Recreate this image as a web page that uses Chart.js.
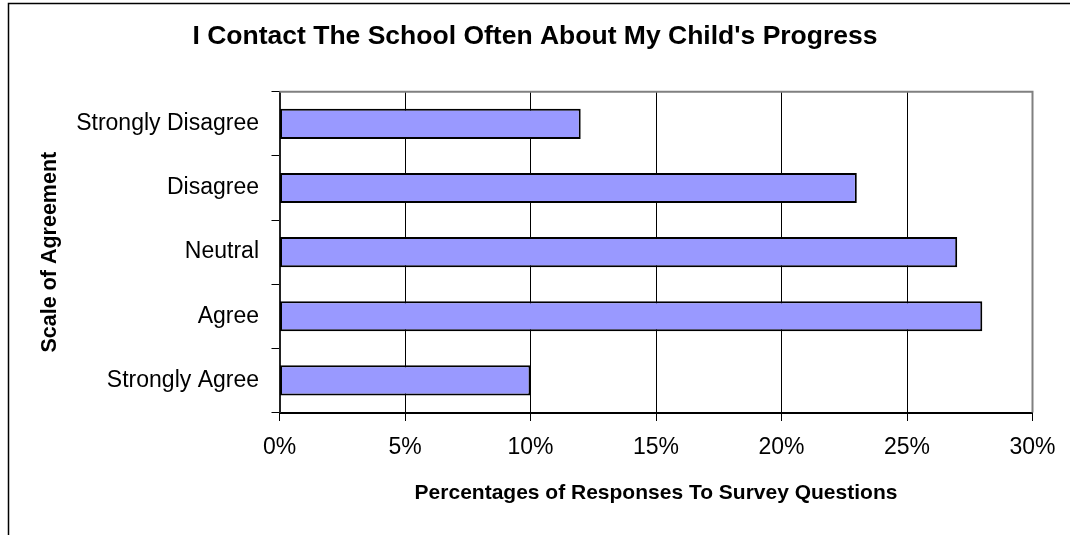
<!DOCTYPE html>
<html>
<head>
<meta charset="utf-8">
<script src="https://cdn.jsdelivr.net/npm/chart.js@4/dist/chart.umd.min.js"></script>
<style>
  html, body { margin: 0; padding: 0; background: #fff; }
  #chart { display: block; }
</style>
</head>
<body>
<canvas id="chart" width="1070" height="535"></canvas>
<script>
// survey answers, top to bottom as in the picture
const categories = ['Strongly Disagree', 'Disagree', 'Neutral', 'Agree', 'Strongly Agree'];
const responses = [12, 23, 27, 28, 10];
const percentTicks = [0, 5, 10, 15, 20, 25, 30];

const FONT = '"Liberation Sans", Arial, sans-serif';

// gray frame on top/right of the plot plus the outer chart border
const frame = {
  id: 'frame',
  afterDatasetsDraw(chart) {
    const {ctx, chartArea: a} = chart;
    ctx.save();
    ctx.strokeStyle = '#808080';
    ctx.lineWidth = 2;
    ctx.beginPath();
    ctx.moveTo(a.left, a.top);
    ctx.lineTo(a.right, a.top);
    ctx.lineTo(a.right, a.bottom);
    ctx.stroke();
    ctx.strokeStyle = '#000';
    ctx.lineWidth = 1.5;
    ctx.beginPath();
    ctx.moveTo(chart.width, 3.5);
    ctx.lineTo(8.5, 3.5);
    ctx.lineTo(8.5, chart.height);
    ctx.stroke();
    ctx.restore();
  }
};

new Chart(document.getElementById('chart'), {
  type: 'bar',
  data: {
    labels: categories,
    datasets: [{
      data: responses,
      backgroundColor: '#9999FF',
      borderColor: '#000',
      borderWidth: 2,
      borderSkipped: false,
      categoryPercentage: 1,
      barPercentage: 0.47
    }]
  },
  options: {
    indexAxis: 'y',
    responsive: false,
    animation: false,
    devicePixelRatio: 1,
    layout: { padding: { left: 37.5, right: 37.5, top: 0, bottom: 0 } },
    plugins: {
      legend: { display: false },
      tooltip: { enabled: false },
      title: {
        display: true,
        text: "I Contact The School Often About My Child's Progress",
        color: '#000',
        font: { family: FONT, size: 26.5, weight: 'bold' },
        padding: { top: 21, bottom: 39 }
      }
    },
    scales: {
      x: {
        min: percentTicks[0],
        max: percentTicks[percentTicks.length - 1],
        ticks: {
          stepSize: percentTicks[1] - percentTicks[0],
          color: '#000',
          font: { family: FONT, size: 23 },
          padding: 13,
          callback: v => v + '%'
        },
        grid: { color: '#000', lineWidth: 1, tickLength: 8.5 },
        border: { color: '#000', width: 2 },
        title: {
          display: true,
          text: 'Percentages of Responses To Survey Questions',
          color: '#000',
          font: { family: FONT, size: 21, weight: 'bold' },
          padding: { top: 0, bottom: 29 }
        },
        afterFit(scale) { scale.height = 122.5; }
      },
      y: {
        ticks: {
          color: '#000',
          font: { family: FONT, size: 23 },
          padding: 12.5
        },
        grid: { drawOnChartArea: false, color: '#000', tickLength: 8, offset: true },
        border: { color: '#222', width: 2 },
        title: {
          display: true,
          text: 'Scale of Agreement',
          color: '#000',
          font: { family: FONT, size: 21.5, weight: 'bold' },
          padding: { top: 0, bottom: 0 }
        },
        afterFit(scale) { scale.width = 242; }
      }
    }
  },
  plugins: [frame]
});
</script>
</body>
</html>
